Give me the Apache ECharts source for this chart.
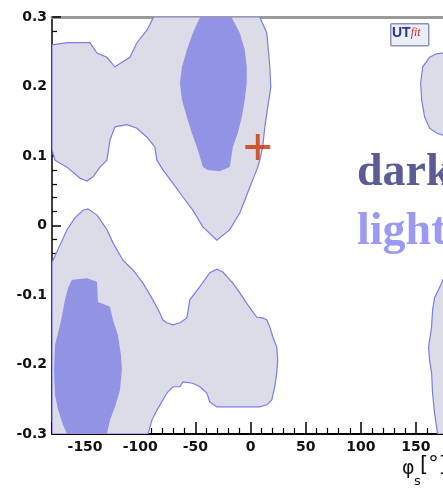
<!DOCTYPE html>
<html>
<head>
<meta charset="utf-8">
<script src="https://cdn.jsdelivr.net/npm/echarts@6/dist/echarts.min.js"></script>
<style>
  html, body { margin: 0; padding: 0; background: #fff; }
  #chart { width: 443px; height: 490px; overflow: hidden; }
</style>
</head>
<body>
<div id="chart"></div>
<script>
// Probability regions in the (phi_s [deg], y) plane, as polygon outlines.
// 95% (light) regions
const lightUpper = [
  [-180, 0.260], [-166.4, 0.263], [-145.7, 0.263], [-139.2, 0.248], [-130.2, 0.242],
  [-122.9, 0.228], [-118.4, 0.233], [-109.3, 0.242], [-103.0, 0.263], [-93.9, 0.281],
  [-88.5, 0.298], [-87.6, 0.300], [8.4, 0.300], [14.8, 0.277], [17.5, 0.228],
  [18.4, 0.199], [15.7, 0.171], [13.0, 0.142], [11.1, 0.113], [8.4, 0.094],
  [6.6, 0.084], [-0.6, 0.055], [-9.7, 0.018], [-18.8, -0.006], [-30.5, -0.021],
  [-43.2, -0.002], [-52.3, 0.022], [-61.3, 0.041], [-70.4, 0.061], [-79.4, 0.080],
  [-84.9, 0.094], [-86.7, 0.113], [-93.9, 0.127], [-103.0, 0.140], [-112.0, 0.145],
  [-122.9, 0.142], [-127.4, 0.123], [-130.2, 0.094], [-136.5, 0.084], [-142.8, 0.070],
  [-148.3, 0.064], [-154.6, 0.068], [-166.4, 0.084], [-177.3, 0.094], [-180, 0.109]
];
const lightLower = [
  [-180, -0.053], [-172.7, -0.028], [-166.4, -0.006], [-159.2, 0.011], [-151.9, 0.022],
  [-147.4, 0.024], [-139.2, 0.015], [-130.2, -0.006], [-124.7, -0.025], [-115.7, -0.050],
  [-106.6, -0.064], [-97.5, -0.083], [-88.5, -0.107], [-82.2, -0.126], [-79.4, -0.136],
  [-75.8, -0.140], [-70.4, -0.143], [-64.0, -0.140], [-57.7, -0.133], [-55.0, -0.107],
  [-45.9, -0.088], [-36.9, -0.068], [-30.5, -0.063], [-25.1, -0.067], [-16.0, -0.083],
  [-9.7, -0.097], [-3.4, -0.112], [5.7, -0.132], [11.1, -0.133], [14.8, -0.136],
  [17.5, -0.146], [20.2, -0.160], [23.8, -0.175], [24.7, -0.194], [23.8, -0.212],
  [22.0, -0.232], [19.3, -0.251], [14.8, -0.258], [8.4, -0.261], [-16.0, -0.261],
  [-30.5, -0.261], [-36.9, -0.254], [-39.6, -0.241], [-45.9, -0.232], [-52.3, -0.227],
  [-61.3, -0.225], [-64.0, -0.232], [-70.4, -0.232], [-75.8, -0.241], [-84.9, -0.266],
  [-89.4, -0.280], [-93.0, -0.300], [-180, -0.300]
];
const lightRightUpper = [
  [180, 0.249], [174.2, 0.248], [168.8, 0.247], [162.4, 0.242], [156.1, 0.228],
  [154.3, 0.205], [155.2, 0.181], [157.9, 0.156], [162.4, 0.140], [168.8, 0.133],
  [174.2, 0.130], [180, 0.128]
];
const lightRightLower = [
  [180, -0.075], [174.2, -0.078], [173.3, -0.083], [166.9, -0.104], [165.1, -0.122],
  [164.2, -0.146], [161.5, -0.175], [162.4, -0.194], [164.2, -0.212], [165.1, -0.241],
  [166.9, -0.270], [168.8, -0.290], [169.7, -0.300], [180, -0.300]
];
// 68% (dark) regions
const darkUpper = [
  [-45.7, 0.300], [-52.3, 0.277], [-57.7, 0.253], [-62.2, 0.228], [-64.0, 0.205],
  [-62.2, 0.181], [-57.7, 0.156], [-53.2, 0.133], [-48.6, 0.113], [-45.9, 0.099],
  [-43.2, 0.084], [-38.7, 0.080], [-27.8, 0.078], [-18.8, 0.084], [-17.8, 0.094],
  [-16.0, 0.113], [-11.5, 0.133], [-7.9, 0.156], [-5.2, 0.181], [-3.4, 0.205],
  [-3.4, 0.228], [-5.2, 0.253], [-9.7, 0.277], [-16.0, 0.296], [-16.9, 0.300]
];
const darkLower = [
  [-161.9, -0.078], [-148.3, -0.076], [-139.2, -0.081], [-138.3, -0.110], [-127.4, -0.117],
  [-124.7, -0.136], [-120.2, -0.158], [-117.5, -0.186], [-116.6, -0.208], [-118.4, -0.237],
  [-122.9, -0.261], [-127.4, -0.280], [-130.2, -0.300], [-166.4, -0.300], [-170.0, -0.287],
  [-174.5, -0.265], [-177.3, -0.244], [-178.2, -0.208], [-177.3, -0.172], [-172.7, -0.143],
  [-170.0, -0.122], [-168.2, -0.107], [-165.5, -0.090]
];
// Standard Model point
const smPoint = [[6.6, 0.113]];

const xRange = [-180, 180];
const yRange = [-0.3, 0.3];
const yStep = 0.1;

const LIGHT_FILL = '#dcdce9';
const DARK_FILL = '#9393e6';
const EDGE = '#7c7ce8';

function regionSeries(points, fill, stroke) {
  return {
    type: 'custom',
    coordinateSystem: 'cartesian2d',
    xAxisIndex: 0,
    yAxisIndex: 0,
    silent: true,
    clip: true,
    data: [[points[0][0], points[0][1]]],
    renderItem: function (params, api) {
      return {
        type: 'polygon',
        shape: { points: points.map(function (p) { return api.coord(p); }) },
        style: stroke
          ? { fill: fill, stroke: stroke, lineWidth: 1.2 }
          : { fill: fill, stroke: null }
      };
    }
  };
}

const labelFont = {
  fontFamily: 'DejaVu Sans',
  fontWeight: 'bold',
  fontSize: 14,
  color: '#111'
};

const chart = echarts.init(document.getElementById('chart'), null, { renderer: 'canvas' });

chart.setOption({
  backgroundColor: '#fff',
  animation: false,
  grid: { left: 52, top: 17, width: 397, height: 417, containLabel: false, outerBoundsMode: 'none' },
  xAxis: [
    {
      type: 'value',
      min: xRange[0],
      max: xRange[1],
      splitNumber: 7,
      position: 'bottom',
      axisLine: { show: true, onZero: false, lineStyle: { color: '#000', width: 2 } },
      axisTick: { show: true, inside: true, length: 12, lineStyle: { color: '#000', width: 1.5 } },
      minorTick: { show: true, splitNumber: 5, length: 6, lineStyle: { color: '#000', width: 1.2 } },
      splitLine: { show: false },
      axisLabel: Object.assign({ margin: 6, showMinLabel: false, showMaxLabel: false }, labelFont)
    },
    {
      type: 'value',
      min: xRange[0],
      max: xRange[1],
      position: 'top',
      axisLine: { show: true, onZero: false, lineStyle: { color: '#9a9a9a', width: 3 } },
      axisTick: { show: false },
      axisLabel: { show: false },
      splitLine: { show: false }
    }
  ],
  yAxis: {
    type: 'value',
    min: yRange[0],
    max: yRange[1],
    interval: yStep,
    axisLine: { show: true, onZero: false, lineStyle: { color: '#000', width: 1.5 } },
    axisTick: { show: true, inside: true, length: 9, lineStyle: { color: '#000', width: 1.5 } },
    minorTick: { show: true, splitNumber: 5, length: 5, lineStyle: { color: '#000', width: 1.2 } },
    splitLine: { show: false },
    axisLabel: Object.assign({ margin: 5 }, labelFont)
  },
  graphic: [
    // UTfit logo
    {
      type: 'rect', left: 390, top: 23, z: 100,
      shape: { width: 38, height: 22, r: 1 },
      style: { fill: '#eceef7', stroke: '#8a92bd', lineWidth: 1.5 }
    },
    {
      type: 'text', left: 392, top: 26, z: 101,
      style: {
        text: '{a|UT}{b|fit}',
        rich: {
          a: { fontFamily: 'Liberation Sans', fontWeight: 'bold', fontSize: 14, fill: '#27358a' },
          b: { fontFamily: 'Liberation Serif', fontStyle: 'italic', fontSize: 12, fill: '#cc2a2a' }
        }
      }
    },
    // legend words
    {
      type: 'text', left: 357, top: 150, z: 100,
      style: { text: 'dark', fontFamily: 'Liberation Serif', fontWeight: 'bold', fontSize: 46, fill: '#5b5b95' }
    },
    {
      type: 'text', left: 357, top: 209, z: 100,
      style: { text: 'light', fontFamily: 'Liberation Serif', fontWeight: 'bold', fontSize: 46, fill: '#9a9af5' }
    },
    // x axis title
    {
      type: 'text', left: 402, top: 460, z: 100,
      style: { text: 'φ', fontFamily: 'DejaVu Sans', fontSize: 19, fill: '#111' }
    },
    {
      type: 'text', left: 414, top: 475, z: 100,
      style: { text: 's', fontFamily: 'DejaVu Sans', fontSize: 13, fill: '#111' }
    },
    {
      type: 'text', left: 420, top: 455, z: 100,
      style: { text: '[°]', fontFamily: 'DejaVu Sans', fontSize: 21, fill: '#111' }
    }
  ],
  series: [
    regionSeries(lightUpper, LIGHT_FILL, EDGE),
    regionSeries(lightLower, LIGHT_FILL, EDGE),
    regionSeries(lightRightUpper, LIGHT_FILL, EDGE),
    regionSeries(lightRightLower, LIGHT_FILL, EDGE),
    regionSeries(darkUpper, DARK_FILL, null),
    regionSeries(darkLower, DARK_FILL, null),
    {
      type: 'scatter',
      xAxisIndex: 0,
      yAxisIndex: 0,
      data: smPoint,
      symbol: 'path://M0,11H26V15H0Z M11,0H15V26H11Z',
      symbolSize: [25, 26],
      itemStyle: { color: '#cc3300' },
      silent: true,
      z: 10
    }
  ]
});
</script>
</body>
</html>
